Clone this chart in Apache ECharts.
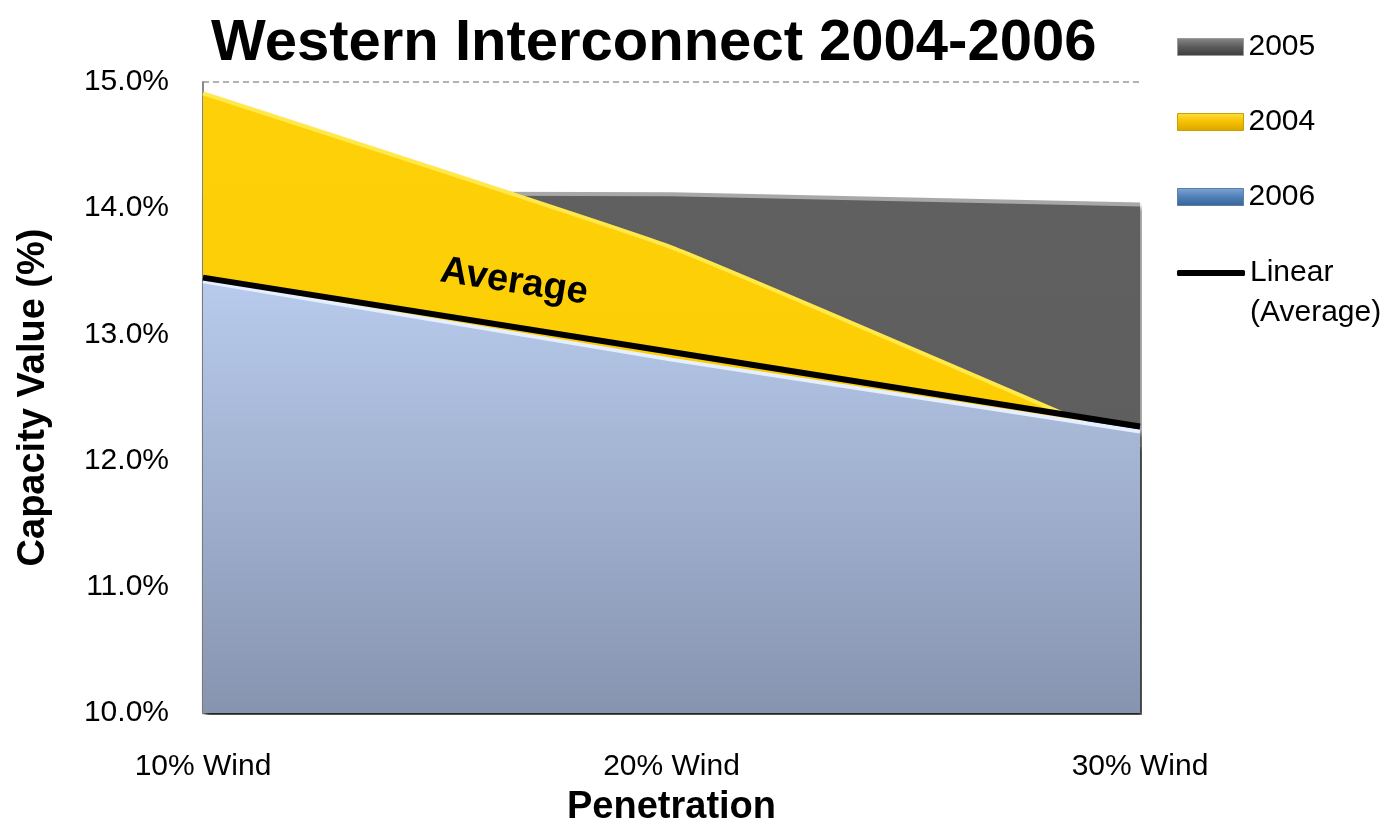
<!DOCTYPE html>
<html>
<head>
<meta charset="utf-8">
<script src="https://cdn.jsdelivr.net/npm/echarts@6/dist/echarts.min.js"></script>
<style>html,body{margin:0;padding:0;background:#fff;}#c{width:1388px;height:825px;}</style>
</head>
<body>
<div id="c"></div>
<script>
const categories = ['10% Wind', '20% Wind', '30% Wind'];
const y2005 = [14.12, 14.11, 14.03];
const y2004 = [14.91, 13.69, 12.11];
const y2006 = [13.42, 12.80, 12.23];
const linearAverage = [13.45, 12.86, 12.27];
const yTicks = [10, 11, 12, 13, 14, 15];

const chart = echarts.init(document.getElementById('c'));
const FONT = '"Liberation Sans", Arial, sans-serif';
const grad = (a, b) => new echarts.graphic.LinearGradient(0, 0, 0, 1, [{offset: 0, color: a}, {offset: 1, color: b}]);
const legendGrad = (a, b, c) => new echarts.graphic.LinearGradient(0, 0, 0, 1, [{offset: 0, color: a}, {offset: 0.5, color: b}, {offset: 1, color: c}]);

const option = {
  backgroundColor: '#fff',
  animation: false,
  title: {
    text: 'Western Interconnect 2004-2006',
    left: 206, top: 10,
    textStyle: {fontFamily: FONT, fontSize: 58, fontWeight: 'bold', color: '#000'}
  },
  grid: {left: 203, right: 248, top: 82, bottom: 112, containLabel: false, outerBoundsMode: 'none'},
  legend: [{
    orient: 'vertical', left: 1172, top: 27, itemGap: 45,
    itemWidth: 66, itemHeight: 17, icon: 'rect',
    textStyle: {fontFamily: FONT, fontSize: 30, color: '#000', lineHeight: 30},
    data: [
      {name: '2005', itemStyle: {color: legendGrad('#8a8a8a', '#5a5a5a', '#3c3c3c'), borderColor: '#999', borderWidth: 1}},
      {name: '2004', itemStyle: {color: legendGrad('#ffe040', '#f5c000', '#d9a400'), borderColor: '#c9a000', borderWidth: 1}},
      {name: '2006', itemStyle: {color: legendGrad('#7fa6d8', '#4f7fb8', '#3a6396'), borderColor: '#5a7ea8', borderWidth: 1}}
    ]
  }, {
    orient: 'vertical', left: 1172, top: 208,
    itemWidth: 68, itemHeight: 6, icon: 'roundRect',
    formatter: () => '{h| }\nLinear\n(Average)',
    textStyle: {fontFamily: FONT, fontSize: 30, color: '#000', lineHeight: 40, rich: {h: {fontSize: 30, lineHeight: 40}}},
    data: [{name: 'Linear (Average)', itemStyle: {color: '#000'}}]
  }],
  xAxis: {
    type: 'category', data: categories, boundaryGap: false,
    name: 'Penetration', nameLocation: 'middle', nameGap: 76,
    nameTextStyle: {fontFamily: FONT, fontSize: 38, fontWeight: 'bold', color: '#000'},
    axisLine: {show: true, lineStyle: {color: '#888', width: 1}},
    axisTick: {show: false},
    axisLabel: {margin: 39, fontFamily: FONT, fontSize: 30, color: '#000'},
    splitLine: {show: false}
  },
  yAxis: {
    type: 'value', min: yTicks[0], max: yTicks[yTicks.length - 1], interval: 1,
    name: 'Capacity Value (%)', nameLocation: 'middle', nameGap: 150,
    nameTextStyle: {fontFamily: FONT, fontSize: 38, fontWeight: 'bold', color: '#000'},
    axisLine: {show: true, lineStyle: {color: '#888', width: 2}},
    axisTick: {show: false},
    axisLabel: {margin: 34, fontFamily: FONT, fontSize: 30, color: '#000', formatter: v => v.toFixed(1) + '%'},
    splitLine: {show: true, lineStyle: {color: '#999', type: [6, 4], width: 1.5}}
  },
  series: [
    {
      name: '2005', type: 'line', data: y2005, symbol: 'none', z: 2,
      itemStyle: {color: '#5a5a5a'},
      lineStyle: {color: '#a8a8a8', width: 4},
      areaStyle: {color: grad('#606060', '#5c5c5c'), opacity: 1, shadowColor: 'rgba(0,0,0,0.45)', shadowBlur: 5, shadowOffsetX: 3, shadowOffsetY: 3},
      origin: 'start'
    },
    {
      name: '2004', type: 'line', data: y2004, symbol: 'none', z: 3, smooth: 0.1,
      itemStyle: {color: '#f5c000'},
      lineStyle: {color: '#ffe84a', width: 4},
      areaStyle: {color: grad('#fdd008', '#fdcc00'), opacity: 1, shadowColor: 'rgba(0,0,0,0.35)', shadowBlur: 5, shadowOffsetX: 3, shadowOffsetY: 3},
      origin: 'start'
    },
    {
      name: '2006', type: 'line', data: y2006, symbol: 'none', z: 4,
      itemStyle: {color: '#4f7fb8'},
      lineStyle: {color: '#e6efff', width: 4},
      areaStyle: {color: grad('#b8cbec', '#8794b0'), opacity: 1, shadowColor: 'rgba(0,0,0,0.5)', shadowBlur: 5, shadowOffsetX: 3, shadowOffsetY: 3},
      origin: 'start'
    },
    {
      name: 'Linear (Average)', type: 'line', data: linearAverage, symbol: 'none', z: 5,
      itemStyle: {color: '#000'},
      lineStyle: {color: '#000', width: 6}
    }
  ],
  graphic: [{
    type: 'text', x: 514, y: 282, rotation: -0.155, z: 100,
    style: {text: 'Average', fontFamily: FONT, fontSize: 38, fontWeight: 'bold', fill: '#000', align: 'center', verticalAlign: 'middle'}
  }]
};
chart.setOption(option);
</script>
</body>
</html>
